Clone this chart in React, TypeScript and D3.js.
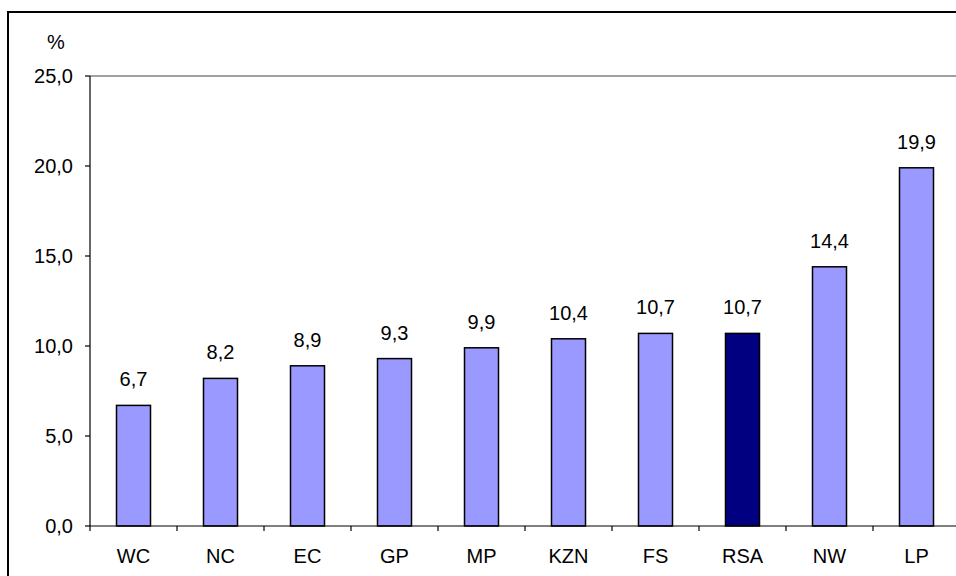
import React from "react";
import * as d3 from "d3";

const categories = ["WC", "NC", "EC", "GP", "MP", "KZN", "FS", "RSA", "NW", "LP"];
const values = [6.7, 8.2, 8.9, 9.3, 9.9, 10.4, 10.7, 10.7, 14.4, 19.9];
const yTicks = [0, 5, 10, 15, 20, 25];
const highlight = "RSA";

const W = 956;
const H = 576;
const left = 90;
const top = 76;
const bottom = 526;
const band = 87;

export default function App() {
  const x = d3
    .scaleBand<string>()
    .domain(categories)
    .range([left, left + band * categories.length])
    .paddingInner(0)
    .paddingOuter(0);
  const y = d3.scaleLinear().domain([0, 25]).range([bottom, top]);
  const barW = 34;
  const fmt = (v: number) => v.toFixed(1).replace(".", ",");
  const font = "'Liberation Sans', Arial, sans-serif";
  const boundaries = d3.range(categories.length + 1).map((i) => left + i * band);

  return (
    <div style={{ position: "fixed", left: 0, top: 0, width: W, height: H, background: "#fff" }}>
      <svg width={W} height={H} style={{ display: "block" }} fontFamily={font}>
        <rect x={0} y={0} width={W} height={H} fill="#fff" />
        <rect x={8} y={12} width={W + 20} height={H + 20} fill="none" stroke="#000" strokeWidth={2} />
        {/* top gridline / plot border */}
        <line x1={left} x2={W + 10} y1={y(25)} y2={y(25)} stroke="#808080" strokeWidth={1.5} />
        {/* bars */}
        {categories.map((c, i) => {
          const cx = (x(c) as number) + x.bandwidth() / 2;
          return (
            <g key={c}>
              <rect
                x={cx - barW / 2}
                y={y(values[i])}
                width={barW}
                height={y(0) - y(values[i])}
                fill={c === highlight ? "#000080" : "#9999FF"}
                stroke="#000"
                strokeWidth={1.5}
              />
              <text x={cx} y={y(values[i]) - 19} textAnchor="middle" fontSize={20} fill="#000">
                {fmt(values[i])}
              </text>
              <text x={cx} y={563} textAnchor="middle" fontSize={20} fill="#000">
                {c}
              </text>
            </g>
          );
        })}
        {/* y axis */}
        <line x1={left} x2={left} y1={y(25)} y2={y(0)} stroke="#000" strokeWidth={1.2} />
        {yTicks.map((t) => (
          <g key={t}>
            <line x1={left - 5} x2={left} y1={y(t)} y2={y(t)} stroke="#000" strokeWidth={1.2} />
            <text x={73} y={y(t) + 7} textAnchor="end" fontSize={20} fill="#000">
              {fmt(t)}
            </text>
          </g>
        ))}
        {/* x axis */}
        <line x1={left} x2={W + 10} y1={y(0)} y2={y(0)} stroke="#000" strokeWidth={1.2} />
        {boundaries.map((b, i) => (
          <line key={i} x1={b} x2={b} y1={y(0)} y2={y(0) + 5} stroke="#000" strokeWidth={1.2} />
        ))}
        <text x={56} y={49} textAnchor="middle" fontSize={20} fill="#000">
          %
        </text>
      </svg>
    </div>
  );
}
